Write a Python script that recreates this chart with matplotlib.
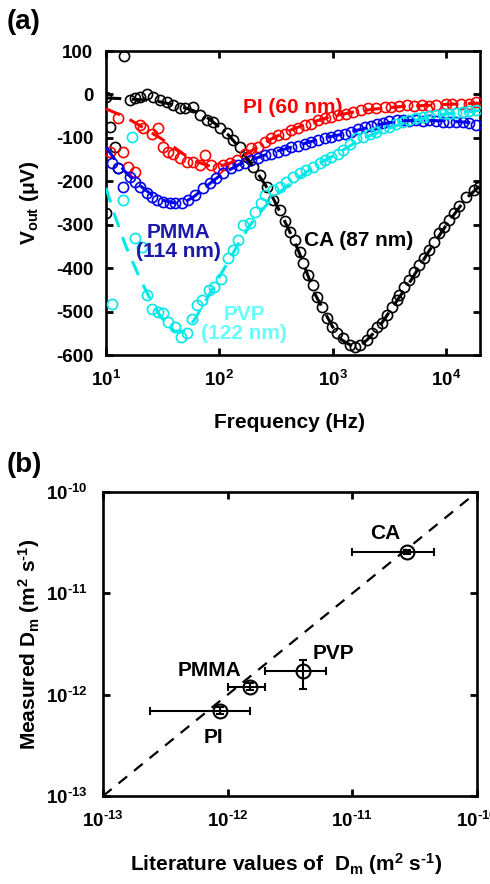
import numpy as np
import matplotlib
matplotlib.use('Agg')
import matplotlib.pyplot as plt

plt.rcParams['font.family'] = 'Liberation Sans'
plt.rcParams['font.weight'] = 'bold'
plt.rcParams['axes.labelweight'] = 'bold'
plt.rcParams['mathtext.fontset'] = 'custom'
plt.rcParams['mathtext.rm'] = 'Liberation Sans:bold'
plt.rcParams['mathtext.it'] = 'Liberation Sans:bold'
plt.rcParams['mathtext.bf'] = 'Liberation Sans:bold'
plt.rcParams['mathtext.default'] = 'rm'

# ---- (a) output voltage vs frequency ----
# CA (87 nm)
ca_f = [10, 14.4, 10.8, 12.0, 12.8, 10, 16.3, 18.0, 19.9, 22.9, 26.1, 29.9, 34.3, 38.9, 44.9, 49.6,
        58.4, 67.3, 77.6, 87.7, 101, 116, 131, 152, 175, 197, 227, 262, 296, 341, 378, 418, 463, 512,
        544, 603, 667, 723, 800, 885, 980, 1084, 1225, 1412, 1564, 1731, 1995, 2208, 2444, 2705,
        2994, 3313, 3667, 3894, 4310, 4770, 5279, 5843, 6467, 7158, 7922, 8768, 9704, 10740, 11887,
        13156, 15161, 17830, 19730]
ca_v = [-6, 89, -75, -121, -170, -273, -13, -8, -6, 2, -5, -13, -17, -24, -31, -31,
        -29, -47, -59, -64, -77, -89, -105, -121, -144, -167, -186, -213, -243, -266, -292, -317, -335, -363,
        -388, -416, -439, -467, -490, -515, -535, -549, -561, -577, -582, -577, -565, -549, -535, -526,
        -508, -490, -474, -462, -444, -427, -409, -393, -377, -359, -340, -319, -305, -289, -273,
        -257, -236, -220, -213]
# PI (60 nm)
pi_f = [10.8, 12.8, 14.2, 15.7, 18.0, 19.9, 21.3, 25.3, 28.9, 32.0, 35.4, 39.2, 44.9, 51.4, 58.8,
        67.3, 74.5, 85.3, 97.5, 108, 124, 142, 168, 192, 220, 252, 288, 330, 378, 432, 494, 566, 648,
        742, 851, 975, 1115, 1321, 1511, 1791, 2048, 2427, 2872, 3289, 3894, 4577, 5279, 6208, 7158,
        8204, 10050, 11400, 13610, 16110, 18450]
pi_v = [-132, -55, -132, -166, -178, -70, -78, -90, -78, -120, -132, -136, -147, -155, -155,
        -163, -140, -163, -170, -163, -159, -151, -136, -124, -120, -109, -101, -94, -90, -82, -78, -70, -67,
        -59, -55, -51, -47, -44, -40, -36, -32, -32, -28, -28, -27, -24, -27, -24, -27,
        -24, -22, -22, -22, -22, -17]
# PMMA (114 nm)
pm_f = [11.2, 12.8, 14.2, 16.3, 18.0, 19.9, 22.9, 25.3, 28.0, 32.0, 36.6, 40.5, 46.4, 53.1, 60.8,
        72.0, 82.4, 94.4, 108, 128, 146, 168, 192, 220, 252, 288, 330, 378, 432, 494, 566, 648, 742,
        851, 975, 1115, 1276, 1462, 1660, 1914, 2163, 2490, 2812, 3177, 3667, 4142, 4770, 5470, 6258,
        7158, 8204, 9380, 10740, 12300, 14070, 16110, 18450]
pm_v = [-159, -170, -213, -190, -201, -213, -228, -236, -243, -247, -251, -251, -251, -243, -232,
        -216, -205, -193, -182, -170, -163, -159, -151, -147, -140, -136, -132, -128, -122, -119, -114, -109, -105,
        -101, -97, -94, -90, -86, -80, -75, -72, -68, -65, -62, -59, -59, -61, -59, -62,
        -60, -61, -63, -63, -63, -64, -65, -70]
# PVP (122 nm)
pv_f = [11.2, 14.2, 16.8, 18.0, 20.6, 22.9, 25.4, 28.9, 31.8, 35.4, 40.5, 45.8, 51.4, 57.3, 64.0,
        70.8, 80.7, 89.5, 103, 120, 132, 146, 162, 186, 206, 235, 252, 298, 341, 391, 447, 512, 586,
        670, 767, 851, 975, 1115, 1233, 1412, 1618, 1849, 2118, 2427, 2775, 3177, 3640, 4160, 4770,
        5470, 6258, 7158, 8204, 9380, 10740, 12300, 14070, 16110, 18450]
pv_v = [-483, -243, -97, -331, -351, -462, -493, -500, -504, -523, -535, -558, -550, -516, -485,
        -473, -450, -443, -424, -377, -358, -335, -301, -297, -270, -251, -232, -220, -213, -201, -190, -182, -174,
        -167, -159, -151, -143, -136, -128, -115, -101, -97, -90, -86, -78, -74, -67, -63, -59,
        -55, -53, -50, -47, -45, -44, -42, -40, -38, -36]

# model fits
fit_f = [10, 12, 15, 20, 25, 30, 40, 50, 60, 80, 100, 120, 150, 200, 250, 300, 400, 500, 700,
         1000, 1200, 1500, 1800, 2000, 2500, 3000, 4000, 5000, 7000, 10000, 15000, 20000]
ca_fit = [-8, -9, -10, -12, -14, -17, -24, -31, -38, -55, -75, -93, -122, -168, -205, -240, -305, -360, -460,
          -535, -565, -580, -575, -566, -540, -510, -462, -425, -363, -302, -240, -210]
pi_fit = [-33, -42, -53, -72, -88, -100, -122, -140, -153, -164, -165, -160, -148, -127, -112, -100, -85, -75, -62,
          -50, -46, -41, -38, -36, -33, -31, -28, -27, -25, -23, -21, -20]
pm_fit = [-121, -150, -180, -210, -230, -242, -250, -247, -235, -208, -188, -175, -161, -149, -140, -133, -124, -117, -106,
          -96, -92, -85, -80, -77, -70, -66, -61, -60, -60, -61, -64, -67]
pv_fit = [-215, -280, -350, -425, -475, -510, -545, -545, -520, -465, -420, -385, -340, -290, -260, -238, -210, -192, -165,
          -142, -130, -115, -104, -98, -88, -80, -68, -62, -52, -45, -40, -37]

# ---- (b) measured vs literature diffusion coefficients ----
names = ['CA', 'PVP', 'PMMA', 'PI']
lit = [2.75e-11, 4.0e-12, 1.5e-12, 8.7e-13]
lit_lo = [1.0e-11, 2.0e-12, 1.0e-12, 2.4e-13]
lit_hi = [4.5e-11, 6.1e-12, 2.0e-12, 1.5e-12]
meas = [2.55e-11, 1.7e-12, 1.2e-12, 6.9e-13]
meas_lo = [2.45e-11, 1.15e-12, 1.12e-12, 6.4e-13]
meas_hi = [2.65e-11, 2.2e-12, 1.29e-12, 7.5e-13]

ylabels_a = ['100', '0', '-100', '-200', '-300', '-400', '-500', '-600']
xlabels_a = [r'$10^{1}$', r'$10^{2}$', r'$10^{3}$', r'$10^{4}$']
labels_b = [r'$10^{\text{-}13}$', r'$10^{\text{-}12}$', r'$10^{\text{-}11}$', r'$10^{\text{-}10}$']

fig = plt.figure(figsize=(4.9, 8.84), dpi=100)

def style(ax):
    for s in ax.spines.values():
        s.set_linewidth(1.9)
    ax.minorticks_off()
    ax.tick_params(which='both', direction='in', top=True, right=True, length=5, width=2,
                   labelsize=13.5, pad=9)

ax1 = fig.add_axes([0.2163, 0.5984, 0.7633, 0.3439])
series = [(ca_f, ca_v, ca_fit, 'black'), (pi_f, pi_v, pi_fit, '#ff0000'),
          (pm_f, pm_v, pm_fit, '#0000ee'), (pv_f, pv_v, pv_fit, '#00e8e8')]
for f, v, fit, c in series:
    ax1.plot(f, v, 'o', ms=7.3, mfc='none', mec=c, mew=1.2, zorder=3)
    ax1.plot(fit_f, fit, '--', color=c, lw=2.2, dashes=(5, 3.5), zorder=4)
ax1.set_xscale('log')
ax1.set_xlim(10, 2e4)
ax1.set_ylim(-600, 100)
ax1.set_yticks(np.arange(100, -601, -100))
ax1.set_yticklabels(ylabels_a)
ax1.set_xticks([10, 100, 1000, 10000])
ax1.set_xticklabels(xlabels_a)
style(ax1)
ax1.tick_params(axis='x', pad=11)
ax1.set_xlabel('Frequency (Hz)', fontsize=15)
ax1.xaxis.set_label_coords(0.49, -0.19)
ax1.set_ylabel(r'V$_{out}$ ($\mu$V)', fontsize=15)
ax1.yaxis.set_label_coords(-0.175, 0.5)
ax1.text(0.5, 0.815, 'PI (60 nm)', color='#ff0000', fontsize=15, ha='center', va='center',
         transform=ax1.transAxes)
ax1.text(0.193, 0.372, 'PMMA\n(114 nm)', color='#1a1aa8', fontsize=15, ha='center', va='center',
         linespacing=1.0, transform=ax1.transAxes)
ax1.text(0.369, 0.102, 'PVP\n(122 nm)', color='#66ffff', fontsize=15, ha='center', va='center',
         linespacing=1.0, transform=ax1.transAxes)
ax1.text(0.676, 0.378, 'CA (87 nm)', color='black', fontsize=15, ha='center', va='center',
         transform=ax1.transAxes)
fig.text(0.049, 0.975, '(a)', fontsize=20, ha='center', va='center')

ax2 = fig.add_axes([0.2102, 0.0995, 0.7633, 0.3439])
ax2.plot([1e-13, 1e-10], [1e-13, 1e-10], '--', color='black', lw=1.6, dashes=(5, 4), zorder=1)
xerr = [np.array(lit) - np.array(lit_lo), np.array(lit_hi) - np.array(lit)]
yerr = [np.array(meas) - np.array(meas_lo), np.array(meas_hi) - np.array(meas)]
ax2.errorbar(lit, meas, xerr=xerr, yerr=yerr, fmt='o', ms=10, mfc='none', mec='black', mew=1.5,
             ecolor='black', elinewidth=1.5, capsize=3, capthick=1.5, zorder=3)
ax2.set_xscale('log')
ax2.set_yscale('log')
ax2.set_xlim(1e-13, 1e-10)
ax2.set_ylim(1e-13, 1e-10)
ax2.set_xticks([1e-13, 1e-12, 1e-11, 1e-10])
ax2.set_xticklabels(labels_b)
ax2.set_yticks([1e-13, 1e-12, 1e-11, 1e-10])
ax2.set_yticklabels(labels_b)
style(ax2)
ax2.tick_params(pad=11)
ax2.set_xlabel(r'Literature values of  D$_{m}$ (m$^{2}$ s$^{\text{-}1}$)', fontsize=15)
ax2.xaxis.set_label_coords(0.49, -0.181)
ax2.set_ylabel(r'Measured D$_{m}$ (m$^{2}$ s$^{\text{-}1}$)', fontsize=15)
ax2.yaxis.set_label_coords(-0.163, 0.5)
label_pos = [(0.754, 0.865), (0.615, 0.47), (0.286, 0.414), (0.294, 0.191)]
for n, (px, py) in zip(names, label_pos):
    ax2.text(px, py, n, fontsize=15, ha='center', va='center', transform=ax2.transAxes)
fig.text(0.049, 0.474, '(b)', fontsize=20, ha='center', va='center')

fig.savefig('out.png', dpi=100)
